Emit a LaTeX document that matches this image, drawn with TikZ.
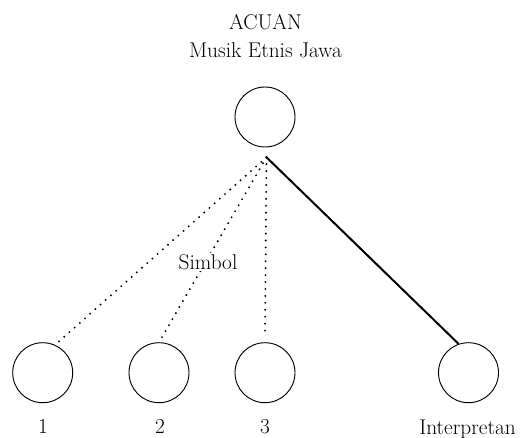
\documentclass[tikz,border=0pt]{standalone}
\begin{document}
\begin{tikzpicture}[x=0.75pt,y=-0.75pt,
  sign/.style={circle,draw,line width=0.7pt,minimum size=45pt,inner sep=0pt},
  lbl/.style={font=\fontsize{16}{19}\selectfont,inner sep=0pt},
  dotline/.style={line width=1.6pt,line cap=round,dash pattern=on 0pt off 5.2pt},
  solidline/.style={line width=1.5pt}]
\useasboundingbox (0,0) rectangle (528,438);
\node[sign] (top) at (265,117) {};
\node[sign] (c1) at (42.7,372.7) {};
\node[sign] (c2) at (159,372.7) {};
\node[sign] (c3) at (265,372.7) {};
\node[sign] (c4) at (468.5,372.7) {};
\coordinate (apex) at (266.5,157.3);
\node[lbl,anchor=base] (acuan) at (265.5,29.5) {ACUAN};
\node[lbl,anchor=base] (musik) at (265.5,58) {Musik Etnis Jawa};
\draw[dotline] (apex) -- (c1.66);
\draw[dotline] (apex) -- (c2.90);
\draw[dotline] (apex) -- ([yshift=5pt]c3.north);
\draw[solidline] (apex) -- (c4.109);
\node[lbl,fill=white,inner sep=1pt] (simbol) at (208,262) {Simbol};
\node[lbl,anchor=base] (l1) at (43,433.5) {1};
\node[lbl,anchor=base] (l2) at (160,433.5) {2};
\node[lbl,anchor=base] (l3) at (265,433.5) {3};
\node[lbl,anchor=base] (interp) at (467.5,434) {Interpretan};
\end{tikzpicture}
\end{document}
